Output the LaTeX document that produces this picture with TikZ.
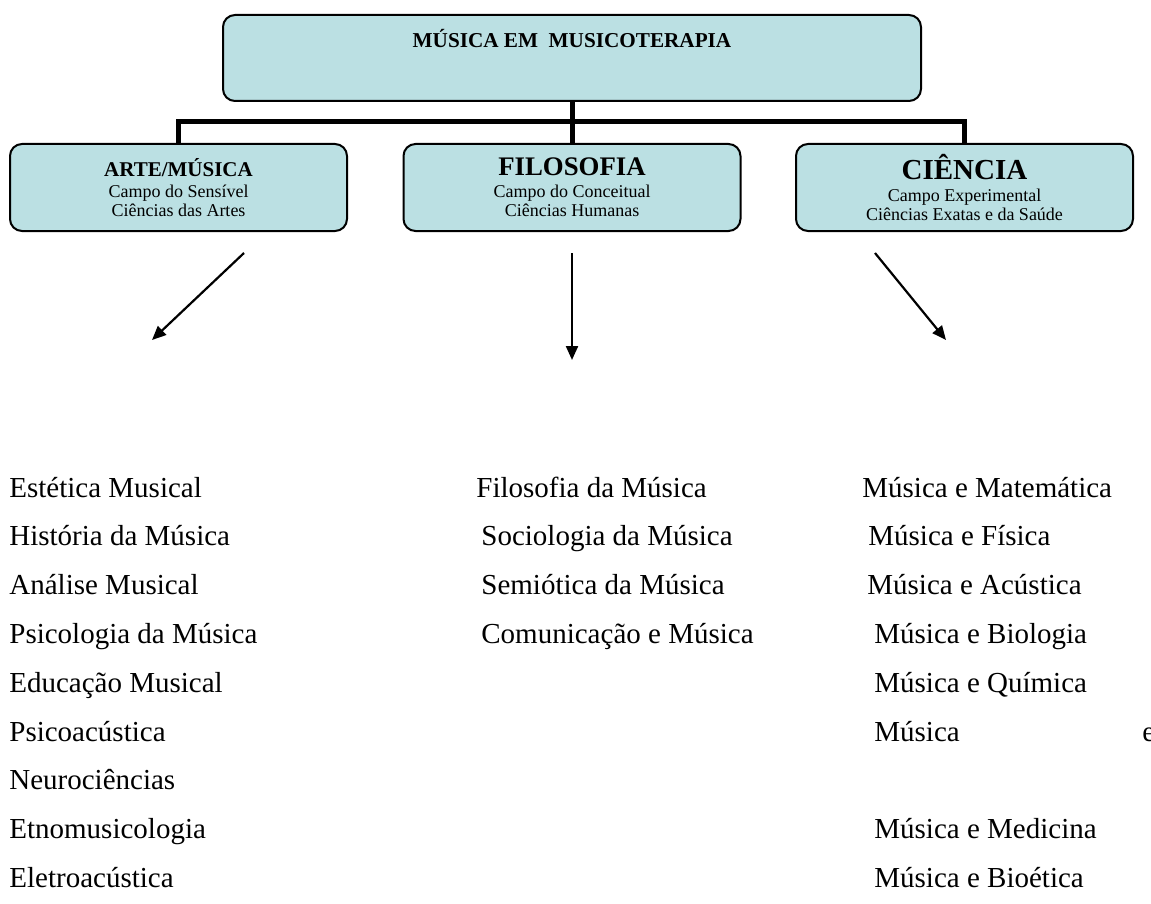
\documentclass[tikz,border=0pt]{standalone}
\usepackage{fontspec}
\setmainfont{Liberation Serif}
\usetikzlibrary{positioning,arrows.meta}
\definecolor{boxfill}{RGB}{187,224,227}

\begin{document}
\begin{tikzpicture}[
    x=0.5pt, y=-0.5pt,
    box/.style={draw, line width=1pt, rounded corners=6pt, fill=boxfill, inner sep=0pt, align=center},
    topbox/.style={box, minimum width=349pt, text height=16.5pt, text depth=26.5pt, font=\fontsize{10.6}{12}\selectfont\bfseries},
    area/.style={box, minimum width=168.5pt, minimum height=43.5pt, font=\fontsize{9}{9.5}\selectfont},
    item/.style={anchor=base west, inner sep=0pt, font=\fontsize{14.5}{17}\selectfont},
    bar/.style={line width=2.5pt},
    arr/.style={-{Triangle[length=7pt,width=6pt]}, line width=1.1pt},
]
\useasboundingbox (0,0) rectangle (1151,904);

% top box and the three fields
\node[topbox, anchor=north] (top) at (572,14) {MÚSICA EM~~MUSICOTERAPIA};
\node[area] (arte) at (178.5,187.5) {{\fontsize{10.5}{12}\selectfont\bfseries ARTE/MÚSICA}\\[1pt]Campo do Sensível\\Ciências das Artes};
\node[area] (filo) at (572,187.5) {{\fontsize{13.4}{14}\selectfont\bfseries FILOSOFIA}\\[1.5pt]Campo do Conceitual\\Ciências Humanas};
\node[area] (cien) at (964.5,187.5) {{\fontsize{14.5}{15}\selectfont\bfseries CIÊNCIA}\\[1.5pt]Campo Experimental\\Ciências Exatas e da Saúde};

\draw[bar] (top.south) -- (filo.north);
\draw[bar] (arte.north) -- ++(0,-21.5) -| (cien.north);

% arrows
\coordinate (arteout) at (244,253);
\coordinate (artein) at (152,340);
\coordinate (filoout) at (572,253);
\coordinate (filoin) at (572,360);
\coordinate (cienout) at (875,253);
\coordinate (cienin) at (946,340);
\draw[arr] (arteout) -- (artein);
\draw[arr] (filoout) -- (filoin);
\draw[arr] (cienout) -- (cienin);

% left column
\node[item] (estetica) at (9,497) {Estética Musical};
\node[item] (historia) at (9,545.8) {História da Música};
\node[item] (analise) at (9,594.6) {Análise Musical};
\node[item] (psicologia) at (9,643.4) {Psicologia da Música};
\node[item] (educacao) at (9,692.2) {Educação Musical};
\node[item] (psicoac) at (9,741) {Psicoacústica};
\node[item] (neuro) at (9,789.8) {Neurociências};
\node[item] (etno) at (9,838.6) {Etnomusicologia};
\node[item] (eletro) at (9,887.4) {Eletroacústica};

% middle column
\node[item] (filomus) at (476,497) {Filosofia da Música};
\node[item] (socio) at (481,545.8) {Sociologia da Música};
\node[item] (semio) at (481,594.6) {Semiótica da Música};
\node[item] (comun) at (481,643.4) {Comunicação e Música};

% right column
\node[item] (matem) at (862,497) {Música e Matemática};
\node[item] (fisica) at (868,545.8) {Música e Física};
\node[item] (acust) at (867,594.6) {Música e Acústica};
\node[item] (bio) at (874,643.4) {Música e Biologia};
\node[item] (quim) at (874,692.2) {Música e Química};
\node[item] (musneuro) at (874,741) {Música};
\node[item] (musneuroe) at (1142,741) {e};
\node[item] (medic) at (874,838.6) {Música e Medicina};
\node[item] (bioet) at (874,887.4) {Música e Bioética};
\end{tikzpicture}
\end{document}
